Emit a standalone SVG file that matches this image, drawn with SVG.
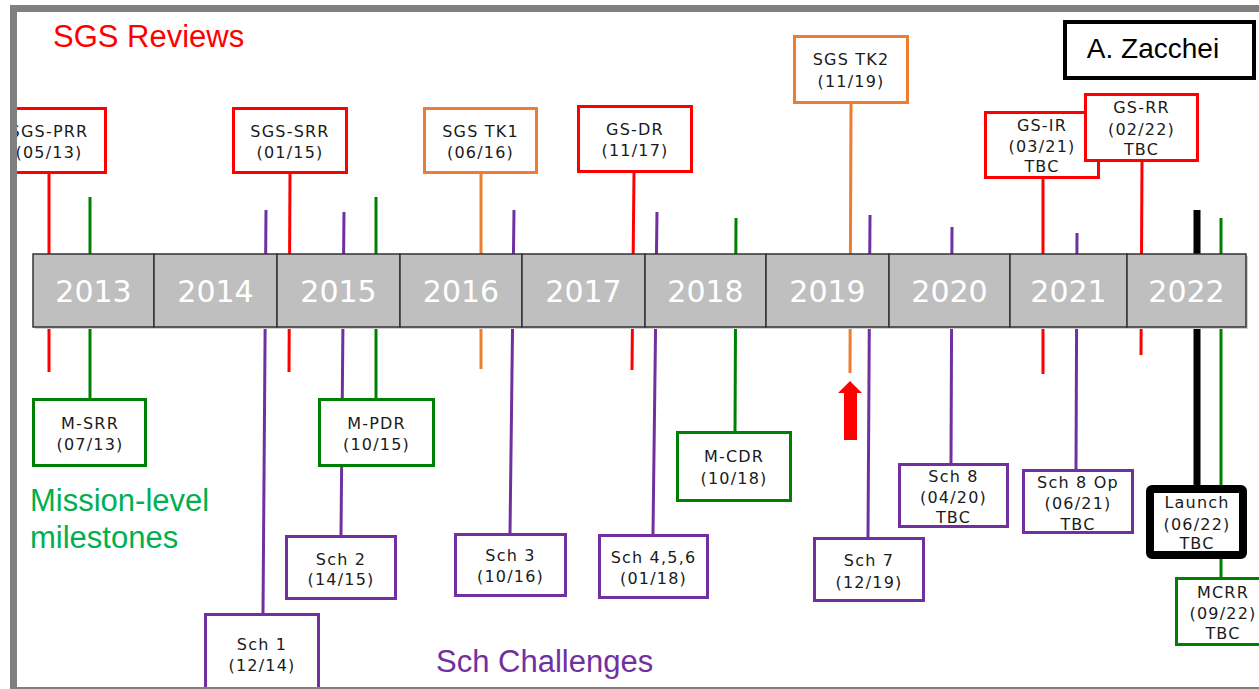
<svg xmlns="http://www.w3.org/2000/svg" width="1259" height="689" viewBox="0 0 1259 689">
<defs>
<style>
.box{fill:#fff;stroke-width:3}
.red{stroke:#ff0000}.org{stroke:#ed7d31}.grn{stroke:#008000}.pur{stroke:#7030a0}.blk{stroke:#000}
.ln{stroke-width:3;fill:none}
.lbl{font-family:"DejaVu Sans",Verdana,sans-serif;font-size:16px;letter-spacing:1.2px;fill:#1a1a1a;text-anchor:middle}
.yr{font-family:"DejaVu Sans",Verdana,sans-serif;font-size:30px;fill:#fff;text-anchor:middle}
.cell{fill:#bfbfbf;stroke:#333;stroke-width:1.5}
.ttl{font-family:"Liberation Sans",Arial,sans-serif;font-size:31px}
</style>
<clipPath id="inner"><rect x="17" y="12" width="1250" height="675"/></clipPath>
</defs>
<rect x="0" y="0" width="1259" height="689" fill="#fff"/>
<g clip-path="url(#inner)">
<g id="connectors">
<line class="ln red" x1="49" y1="174" x2="49" y2="372"/>
<line class="ln red" x1="290" y1="174" x2="289" y2="372"/>
<line class="ln red" x1="634" y1="173" x2="632" y2="370"/>
<line class="ln red" x1="1043" y1="179" x2="1043" y2="374"/>
<line class="ln red" x1="1142" y1="162" x2="1141" y2="355"/>
<line class="ln org" x1="481" y1="174" x2="481" y2="369"/>
<line class="ln org" x1="851" y1="104" x2="850" y2="373"/>
<line class="ln grn" x1="90" y1="197" x2="90" y2="398"/>
<line class="ln grn" x1="376" y1="197" x2="376" y2="398"/>
<line class="ln grn" x1="736" y1="218" x2="735" y2="431"/>
<line class="ln grn" x1="1221" y1="218" x2="1221" y2="577"/>
<line class="ln pur" x1="266" y1="210" x2="263" y2="613"/>
<line class="ln pur" x1="344" y1="212" x2="341" y2="535"/>
<line class="ln pur" x1="514" y1="210" x2="510" y2="533"/>
<line class="ln pur" x1="657" y1="212" x2="653" y2="534"/>
<line class="ln pur" x1="870" y1="215" x2="868" y2="537"/>
<line class="ln pur" x1="952" y1="227" x2="951" y2="463"/>
<line class="ln pur" x1="1077" y1="233" x2="1076" y2="469"/>
<line style="stroke:#000;stroke-width:7" x1="1197" y1="210" x2="1197" y2="485"/>
</g>
<g id="timeline">
<rect x="35" y="256" width="1213" height="73" fill="#d0d0d0"/>
<rect class="cell" x="33" y="254" width="121" height="73"/>
<rect class="cell" x="154" y="254" width="123" height="73"/>
<rect class="cell" x="277" y="254" width="123" height="73"/>
<rect class="cell" x="400" y="254" width="122" height="73"/>
<rect class="cell" x="522" y="254" width="123" height="73"/>
<rect class="cell" x="645" y="254" width="121" height="73"/>
<rect class="cell" x="766" y="254" width="123" height="73"/>
<rect class="cell" x="889" y="254" width="121" height="73"/>
<rect class="cell" x="1010" y="254" width="117" height="73"/>
<rect class="cell" x="1127" y="254" width="119" height="73"/>
<text class="yr" x="93.5" y="302">2013</text>
<text class="yr" x="215.5" y="302">2014</text>
<text class="yr" x="338.5" y="302">2015</text>
<text class="yr" x="461" y="302">2016</text>
<text class="yr" x="583.5" y="302">2017</text>
<text class="yr" x="705.5" y="302">2018</text>
<text class="yr" x="827.5" y="302">2019</text>
<text class="yr" x="949.5" y="302">2020</text>
<text class="yr" x="1068.5" y="302">2021</text>
<text class="yr" x="1186.5" y="302">2022</text>
</g>
<g id="sgs-prr"><rect class="box red" x="-7.5" y="108.5" width="113" height="64"/><text class="lbl" x="49" y="137">SGS-PRR</text><text class="lbl" x="49" y="158">(05/13)</text></g>
<g id="sgs-srr"><rect class="box red" x="233.5" y="108.5" width="113" height="64"/><text class="lbl" x="290" y="137">SGS-SRR</text><text class="lbl" x="290" y="158">(01/15)</text></g>
<g id="sgs-tk1"><rect class="box org" x="424.5" y="108.5" width="112" height="64"/><text class="lbl" x="480.5" y="137">SGS TK1</text><text class="lbl" x="480.5" y="158">(06/16)</text></g>
<g id="gs-dr"><rect class="box red" x="578.5" y="106.5" width="113" height="65"/><text class="lbl" x="635" y="135">GS-DR</text><text class="lbl" x="635" y="156">(11/17)</text></g>
<g id="sgs-tk2"><rect class="box org" x="794.5" y="36.5" width="113" height="66"/><text class="lbl" x="851" y="65">SGS TK2</text><text class="lbl" x="851" y="87">(11/19)</text></g>
<g id="gs-ir"><rect class="box red" x="985.5" y="112.5" width="113" height="65"/><text class="lbl" x="1042" y="131">GS-IR</text><text class="lbl" x="1042" y="152">(03/21)</text><text class="lbl" x="1042" y="172">TBC</text></g>
<g id="gs-rr"><rect class="box red" x="1085.5" y="94.5" width="112" height="66"/><text class="lbl" x="1141.5" y="113">GS-RR</text><text class="lbl" x="1141.5" y="135">(02/22)</text><text class="lbl" x="1141.5" y="155">TBC</text></g>
<g id="author"><rect x="1065" y="22" width="189" height="56" fill="#fff" stroke="#000" stroke-width="4"/><text x="1153" y="58" style="font-family:'Liberation Sans',Arial,sans-serif;font-size:28px" text-anchor="middle" fill="#000">A. Zacchei</text></g>
<g id="m-srr"><rect class="box grn" x="33.5" y="399.5" width="112" height="66"/><text class="lbl" x="90" y="429">M-SRR</text><text class="lbl" x="90" y="450">(07/13)</text></g>
<g id="m-pdr"><rect class="box grn" x="319.5" y="399.5" width="114" height="66"/><text class="lbl" x="376.5" y="429">M-PDR</text><text class="lbl" x="376.5" y="450">(10/15)</text></g>
<g id="m-cdr"><rect class="box grn" x="677.5" y="432.5" width="113" height="68"/><text class="lbl" x="734" y="462">M-CDR</text><text class="lbl" x="734" y="484">(10/18)</text></g>
<g id="sch1"><rect class="box pur" x="205.5" y="614.5" width="113" height="90"/><text class="lbl" x="262" y="650">Sch 1</text><text class="lbl" x="262" y="671">(12/14)</text></g>
<g id="sch2"><rect class="box pur" x="286.5" y="536.5" width="109" height="62"/><text class="lbl" x="341" y="565">Sch 2</text><text class="lbl" x="341" y="585">(14/15)</text></g>
<g id="sch3"><rect class="box pur" x="455.5" y="534.5" width="110" height="61"/><text class="lbl" x="510.5" y="561">Sch 3</text><text class="lbl" x="510.5" y="582">(10/16)</text></g>
<g id="sch456"><rect class="box pur" x="599.5" y="535.5" width="108" height="62"/><text class="lbl" x="653.5" y="563">Sch 4,5,6</text><text class="lbl" x="653.5" y="584">(01/18)</text></g>
<g id="sch7"><rect class="box pur" x="814.5" y="538.5" width="109" height="62"/><text class="lbl" x="869" y="566">Sch 7</text><text class="lbl" x="869" y="588">(12/19)</text></g>
<g id="sch8"><rect class="box pur" x="899.5" y="464.5" width="108" height="62"/><text class="lbl" x="953.5" y="482">Sch 8</text><text class="lbl" x="953.5" y="503">(04/20)</text><text class="lbl" x="953.5" y="523">TBC</text></g>
<g id="sch8op"><rect class="box pur" x="1023.5" y="470.5" width="109" height="62"/><text class="lbl" x="1078" y="488">Sch 8 Op</text><text class="lbl" x="1078" y="509">(06/21)</text><text class="lbl" x="1078" y="530">TBC</text></g>
<g id="launch"><rect x="1150" y="489" width="93" height="66" rx="2" style="fill:#fff;stroke:#000;stroke-width:8"/><text class="lbl" x="1197" y="508">Launch</text><text class="lbl" x="1197" y="530">(06/22)</text><text class="lbl" x="1197" y="549">TBC</text></g>
<g id="mcrr"><rect class="box grn" x="1176.5" y="578.5" width="92" height="66"/><text class="lbl" x="1223" y="598">MCRR</text><text class="lbl" x="1223" y="619">(09/22)</text><text class="lbl" x="1223" y="639">TBC</text></g>
<g id="now-arrow"><polygon points="850,381 862,393 857,393 857,440 844,440 844,393 838,393" fill="#ff0000"/></g>
<g id="legends">
<text class="ttl" x="53" y="47" fill="#ff0000">SGS Reviews</text>
<text class="ttl" x="30" y="511" fill="#00b050">Mission-level</text>
<text class="ttl" x="30" y="548" fill="#00b050">milestones</text>
<text class="ttl" x="436" y="672" fill="#7030a0">Sch Challenges</text>
</g>
</g>
<rect id="frame" x="13.5" y="8.5" width="1262" height="682" fill="none" stroke="#808080" stroke-width="7"/>
</svg>
